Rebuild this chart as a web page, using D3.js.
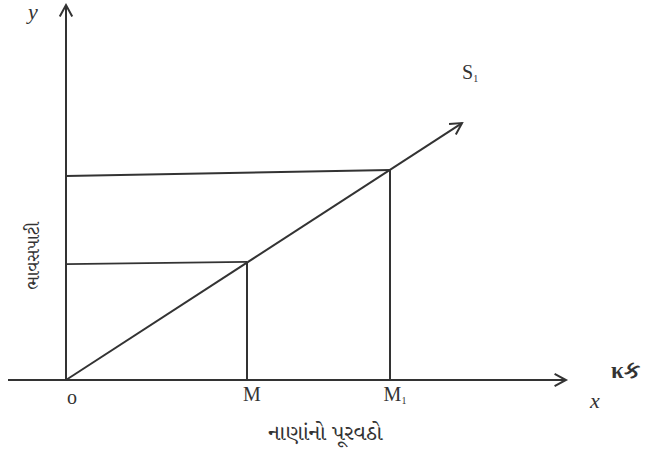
<!DOCTYPE html>
<html>
<head>
  <meta charset="utf-8">
  <title>Money supply and price level</title>
  <script src="https://d3js.org/d3.v7.min.js"></script>
  <style>
    body { margin: 0; background: #fff; }
    .stroke { fill: none; stroke: #333; stroke-width: 2; }
    .lbl { font-family: "Liberation Serif", "DejaVu Serif", serif; fill: #333; }
  </style>
</head>
<body>
  <svg width="645" height="452"></svg>
  <script>
    // chart values (domain units: 0..100 on both axes)
    const supplyLine = [ { q: 0, p: 0 }, { q: 79.2, p: 68.5 } ];
    const points = [
      { name: "M",  q: 36.2, p: 31.5, pLeft: 30.9 },
      { name: "M₁", q: 64.8, p: 56.0, pLeft: 54.4 }
    ];
    const axisX = [-11.6, 100];
    const axisY = [0, 100];
    const labels = { x: "x", y: "y", xTitle: "નાણાંનો પૂરવઠો", yTitle: "ભાવસપાટી", right: "κક", curve: "S", origin: "o" };

    const svg = d3.select("svg");

    const x = d3.scaleLinear().domain([0, 100]).range([66, 566]);
    const y = d3.scaleLinear().domain([0, 100]).range([380, 5]);

    function arrowHead(g, x1, y1, x2, y2) {
      const a = Math.atan2(y2 - y1, x2 - x1), L = 13, w = 0.5;
      const p = d3.path();
      p.moveTo(x2 - L * Math.cos(a - w), y2 - L * Math.sin(a - w));
      p.lineTo(x2, y2);
      p.lineTo(x2 - L * Math.cos(a + w), y2 - L * Math.sin(a + w));
      g.append("path").attr("class", "stroke").attr("d", p.toString());
    }

    const g = svg.append("g");

    // axes
    g.append("line").attr("class", "stroke")
      .attr("x1", x(axisX[0])).attr("y1", y(0)).attr("x2", x(axisX[1])).attr("y2", y(0));
    arrowHead(g, x(axisX[0]), y(0), x(axisX[1]), y(0));
    g.append("line").attr("class", "stroke")
      .attr("x1", x(0)).attr("y1", y(axisY[0])).attr("x2", x(0)).attr("y2", y(axisY[1]));
    arrowHead(g, x(0), y(axisY[0]), x(0), y(axisY[1]));

    // supply line
    const line = d3.line().x(d => x(d.q)).y(d => y(d.p));
    g.append("path").datum(supplyLine).attr("class", "stroke").attr("d", line);
    const s0 = supplyLine[0], s1 = supplyLine[1];
    arrowHead(g, x(s0.q), y(s0.p), x(s1.q), y(s1.p));

    // projection lines
    points.forEach(d => {
      g.append("line").attr("class", "stroke")
        .attr("x1", x(0)).attr("y1", y(d.pLeft)).attr("x2", x(d.q)).attr("y2", y(d.p));
      g.append("line").attr("class", "stroke")
        .attr("x1", x(d.q)).attr("y1", y(d.p)).attr("x2", x(d.q)).attr("y2", y(0));
    });

    // labels
    const t = svg.append("g").attr("class", "lbl");
    t.append("text").attr("x", 28).attr("y", 19).attr("font-size", 22).attr("font-style", "italic").text(labels.y);
    t.append("text").attr("x", 595).attr("y", 408).attr("font-size", 22).attr("font-style", "italic")
      .attr("text-anchor", "middle").text(labels.x);
    t.append("text").attr("x", 72).attr("y", 404).attr("font-size", 20).attr("text-anchor", "middle").text(labels.origin);

    points.forEach(d => {
      const base = d.name.replace("₁", "");
      const tx = t.append("text").attr("x", x(d.q) + 5).attr("y", 401).attr("font-size", 20)
        .attr("text-anchor", "middle");
      tx.append("tspan").text(base);
      if (d.name.includes("₁")) tx.append("tspan").attr("font-size", 10).attr("dy", 3).text("1");
    });

    const st = t.append("text").attr("x", 462).attr("y", 79).attr("font-size", 20);
    st.append("tspan").text(labels.curve);
    st.append("tspan").attr("font-size", 10).attr("dy", 3).text("1");

    t.append("text").attr("x", 611).attr("y", 378).attr("font-size", 23).attr("font-weight", 600).text(labels.right);

    t.append("text").attr("x", 325).attr("y", 440).attr("font-size", 22).attr("text-anchor", "middle")
      .style("font-family", "'Noto Serif Gujarati', 'Noto Sans Gujarati', serif").text(labels.xTitle);
    t.append("text").attr("transform", "translate(39,256) rotate(-90)").attr("font-size", 18)
      .attr("text-anchor", "middle")
      .style("font-family", "'Noto Serif Gujarati', 'Noto Sans Gujarati', serif").text(labels.yTitle);
  </script>
</body>
</html>
